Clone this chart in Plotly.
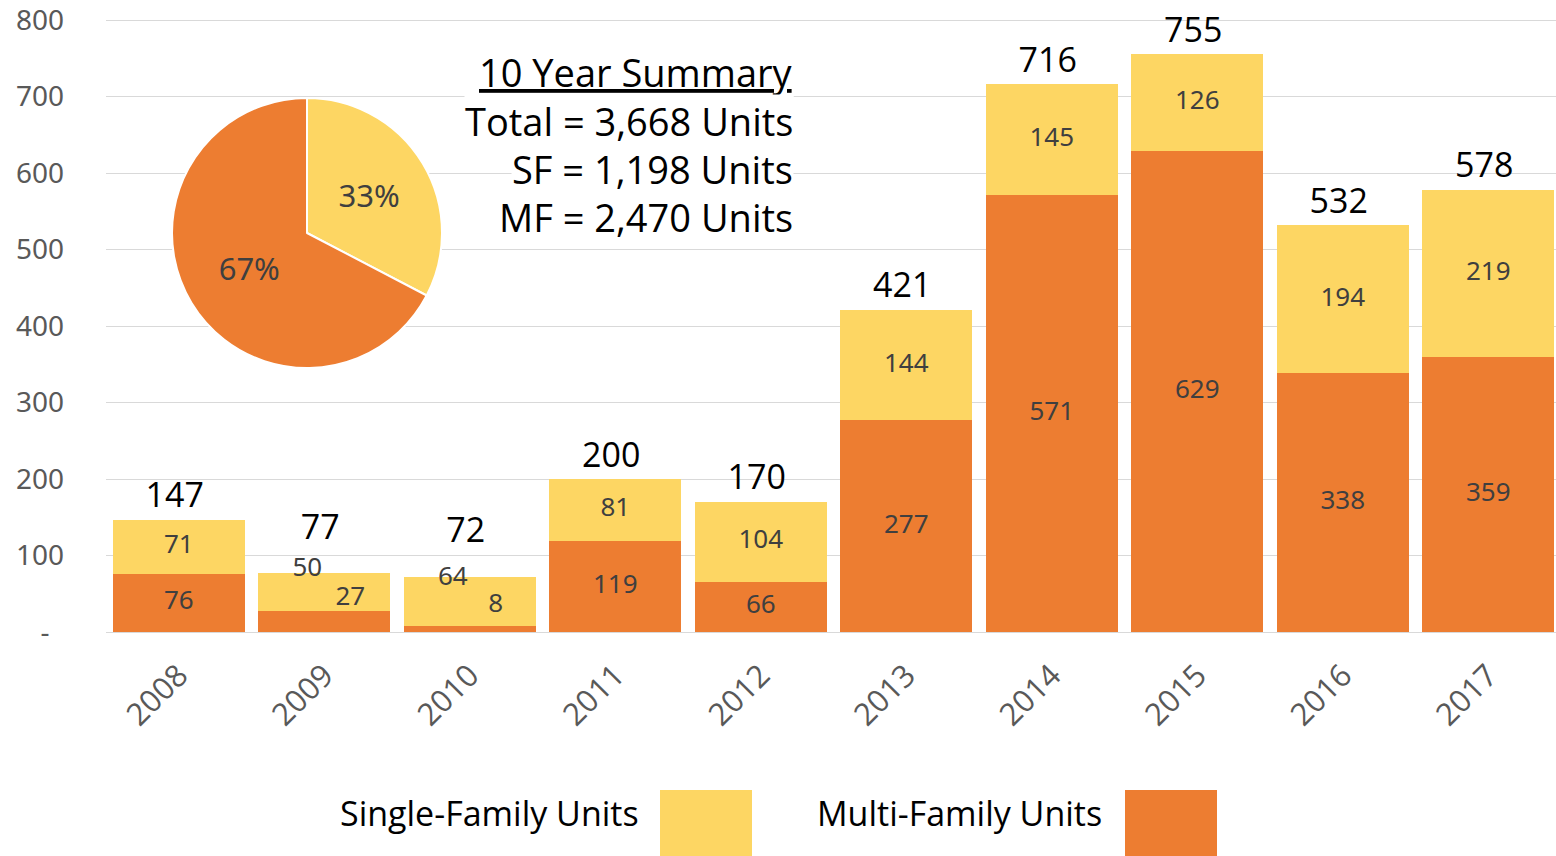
import plotly.graph_objects as go

years = ["2008", "2009", "2010", "2011", "2012", "2013", "2014", "2015", "2016", "2017"]
single_family = [71, 50, 64, 81, 104, 144, 145, 126, 194, 219]
multi_family = [76, 27, 8, 119, 66, 277, 571, 629, 338, 359]
totals = [147, 77, 72, 200, 170, 421, 716, 755, 532, 578]

pie_labels = ["Single-Family Units", "Multi-Family Units"]
pie_values = [1198, 2470]

summary_title = "10 Year Summary"
summary_lines = ["Total = 3,668 Units", "SF = 1,198 Units", "MF = 2,470 Units"]

y_tickvals = [0, 100, 200, 300, 400, 500, 600, 700, 800]
y_ticktext = ["-\u00a0\u00a0", "100", "200", "300", "400", "500", "600", "700", "800"]

YELLOW = "#FDD663"
ORANGE = "#ED7D31"
LABEL_COLOR = "#3F3F3F"
TICK_COLOR = "#595959"
GRID = "#D9D9D9"
CAL_FONT = "Open Sans"
NUM_FONT = "Noto Sans"

W, H = 1556, 856
ML, MR, MT, MB = 106, 0, 18, 224
PW, PH = W - ML - MR, H - MT - MB
PX_PER_UNIT = 0.765      # vertical pixels per y unit
PX_PER_CAT = 145.5       # horizontal pixels per category
Y_TOP = PH / PX_PER_UNIT


def px_x(px):
    return (px - ML) / PW


def px_y(py):
    return (H - MB - py) / PH


idx = list(range(len(years)))

fig = go.Figure()
fig.add_trace(go.Bar(x=idx, y=multi_family, name="Multi-Family Units",
                     marker=dict(color=ORANGE, line=dict(width=0)),
                     customdata=years, hovertemplate="%{customdata}: %{y}<extra>Multi-Family</extra>"))
fig.add_trace(go.Bar(x=idx, y=single_family, name="Single-Family Units",
                     marker=dict(color=YELLOW, line=dict(width=0)),
                     customdata=years, hovertemplate="%{customdata}: %{y}<extra>Single-Family</extra>"))

# segment and total labels (small bars get labels nudged as in the original)
mf_x, mf_y, sf_x, sf_y, tot_x, tot_y = [], [], [], [], [], []
for i, sf, mf, tot in zip(idx, single_family, multi_family, totals):
    small = tot < 100
    up = 23 / PX_PER_UNIT if small else 0
    mf_x.append(i + (26 / PX_PER_CAT if small else 0))
    mf_y.append(mf / 2 + up)
    sf_x.append(i - (17 / PX_PER_CAT if small else 0))
    sf_y.append(mf + sf / 2 + up)
    tot_x.append(i - 4 / PX_PER_CAT)
    tot_y.append(tot + (43 if small else 21) / PX_PER_UNIT)

lab_font = dict(family=NUM_FONT, size=26, color=LABEL_COLOR)
fig.add_trace(go.Scatter(x=mf_x, y=mf_y, mode="text", text=[str(v) for v in multi_family],
                         textposition="middle center", textfont=lab_font, hoverinfo="skip",
                         showlegend=False, cliponaxis=False))
fig.add_trace(go.Scatter(x=sf_x, y=sf_y, mode="text", text=[str(v) for v in single_family],
                         textposition="middle center", textfont=lab_font, hoverinfo="skip",
                         showlegend=False, cliponaxis=False))
fig.add_trace(go.Scatter(x=tot_x, y=tot_y, mode="text", text=[str(v) for v in totals],
                         textposition="middle center",
                         textfont=dict(family=CAL_FONT, size=34, color="black"),
                         hoverinfo="skip", showlegend=False, cliponaxis=False))

R = 135
fig.add_trace(go.Pie(labels=pie_labels, values=pie_values, sort=False, direction="clockwise",
                     rotation=0, marker=dict(colors=[YELLOW, ORANGE], line=dict(color="white", width=2)),
                     texttemplate="%{percent:.0%}", textposition="inside",
                     insidetextorientation="horizontal",
                     textfont=dict(family=NUM_FONT, size=31, color=LABEL_COLOR),
                     domain=dict(x=[px_x(307 - R), px_x(307 + R)], y=[px_y(233 + R), px_y(233 - R)]),
                     showlegend=False, hoverinfo="label+value+percent"))

annotations = []
sum_font = dict(family=CAL_FONT, size=38, color="black")
annotations.append(dict(xref="paper", yref="paper", x=px_x(794), y=px_y(72), xanchor="right",
                        yanchor="middle", text="<u>" + summary_title + "</u>", showarrow=False,
                        font=sum_font, bgcolor="white", borderpad=0))
for i, line in enumerate(summary_lines):
    annotations.append(dict(xref="paper", yref="paper", x=px_x(794), y=px_y(121 + 48 * i),
                            xanchor="right", yanchor="middle", text=line, showarrow=False,
                            font=sum_font, bgcolor="white", borderpad=0))

leg_font = dict(family=CAL_FONT, size=34, color="black")
shapes = []
for name, color, text_right, sw_left in [("Single-Family Units", YELLOW, 641, 660),
                                          ("Multi-Family Units", ORANGE, 1104, 1125)]:
    annotations.append(dict(xref="paper", yref="paper", x=px_x(text_right), y=px_y(813),
                            xanchor="right", yanchor="middle", text=name, showarrow=False,
                            font=leg_font))
    shapes.append(dict(type="rect", xref="paper", yref="paper", x0=px_x(sw_left), x1=px_x(sw_left + 92),
                       y0=px_y(790), y1=px_y(856), fillcolor=color, line=dict(width=0), layer="above"))

fig.update_layout(
    width=W, height=H, margin=dict(l=ML, r=MR, t=MT, b=MB, autoexpand=False),
    barmode="stack", bargap=0.094, showlegend=False,
    plot_bgcolor="white", paper_bgcolor="white",
    xaxis=dict(range=[-0.5, PW / PX_PER_CAT - 0.5], tickvals=idx, ticktext=years,
               showgrid=False, zeroline=False, showline=False, automargin=False,
               ticks="", tickangle=-45, tickfont=dict(family=CAL_FONT, size=31, color=TICK_COLOR),
               ticklabelstandoff=18),
    yaxis=dict(range=[0, Y_TOP], tickvals=y_tickvals, ticktext=y_ticktext, showgrid=True,
               gridcolor=GRID, gridwidth=1, zeroline=True, zerolinecolor=GRID, zerolinewidth=1,
               showline=False, ticks="", tickfont=dict(family=NUM_FONT, size=28, color=TICK_COLOR),
               ticklabelstandoff=41, ticklabeloverflow="allow", automargin=False),
    annotations=annotations, shapes=shapes,
)

# remove the default page margin so the figure fills the window exactly
fig.write_html("out.html", config={"displayModeBar": False},
               post_script="document.body.style.margin = '0';")
